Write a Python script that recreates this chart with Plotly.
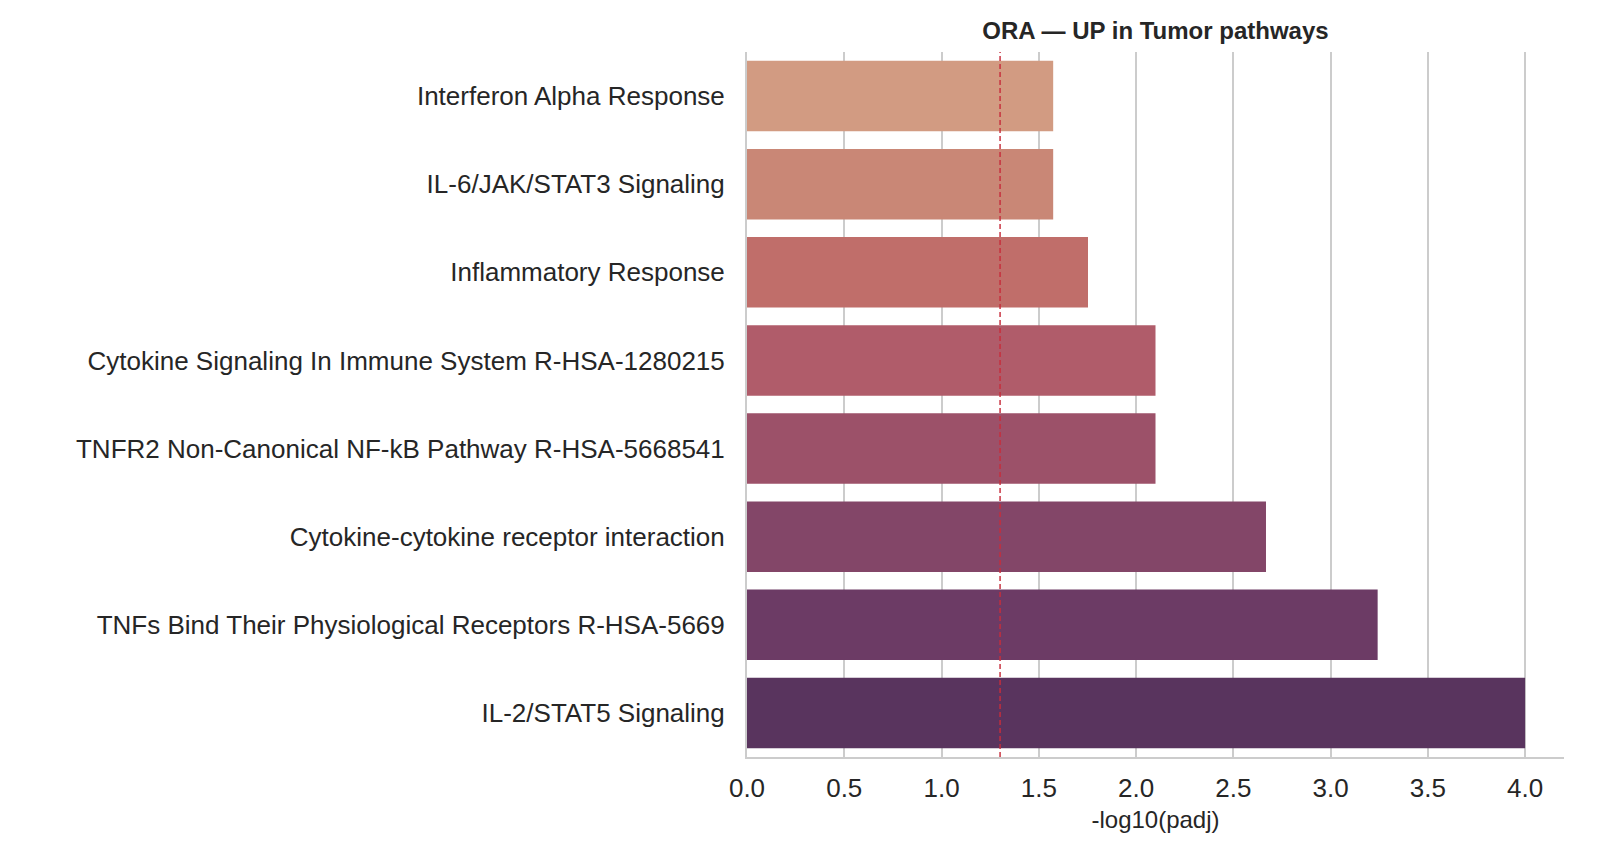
import plotly.graph_objects as go

categories = [
    "Interferon Alpha Response",
    "IL-6/JAK/STAT3 Signaling",
    "Inflammatory Response",
    "Cytokine Signaling In Immune System R-HSA-1280215",
    "TNFR2 Non-Canonical NF-kB Pathway R-HSA-5668541",
    "Cytokine-cytokine receptor interaction",
    "TNFs Bind Their Physiological Receptors R-HSA-5669",
    "IL-2/STAT5 Signaling",
]
values = [1.574, 1.574, 1.753, 2.10, 2.10, 2.668, 3.242, 4.0]
colors = ["#d29b82", "#c98776", "#c06e6a", "#b05c6a", "#9c5169", "#834668", "#6c3b65", "#59345e"]
x_ticks = [0.0, 0.5, 1.0, 1.5, 2.0, 2.5, 3.0, 3.5, 4.0]
threshold = 1.30103

fig = go.Figure()
fig.add_trace(go.Bar(
    x=values, y=categories, orientation="h",
    marker=dict(color=colors, line=dict(width=0)),
    hoverinfo="x+y",
))

fig.add_shape(type="line", xref="x", yref="paper", x0=threshold, x1=threshold, y0=0, y1=1,
              line=dict(color="rgba(200,45,60,0.9)", width=1.6, dash="5px,3px"), layer="above")

FONT = "Liberation Sans, Arial, sans-serif"
fig.update_layout(
    width=1600, height=860,
    margin=dict(l=747, r=36, t=52, b=103),
    paper_bgcolor="white", plot_bgcolor="white",
    showlegend=False,
    bargap=0.2,
    font=dict(family=FONT, color="#262626", size=26),
    title=dict(text="<b>ORA — UP in Tumor pathways</b>", x=0.5, xref="paper", xanchor="center",
               y=1 - 31 / 860, yref="container", yanchor="middle",
               font=dict(family=FONT, size=24, color="#262626")),
    xaxis=dict(range=[0, 4.2], tickvals=x_ticks, tickformat=".1f",
               showgrid=True, gridcolor="#cccccc", gridwidth=1.8,
               zeroline=False, showline=True, linecolor="#cccccc", linewidth=2,
               ticks="", ticklabelstandoff=7,
               tickfont=dict(family=FONT, size=26, color="#262626"),
               title=dict(text="-log10(padj)", standoff=9,
                          font=dict(family=FONT, size=24, color="#262626"))),
    yaxis=dict(categoryorder="array", categoryarray=categories, autorange="reversed",
               showgrid=False, zeroline=False, showline=True, linecolor="#cccccc", linewidth=2,
               ticks="", ticklabelstandoff=15,
               tickfont=dict(family=FONT, size=26, color="#262626")),
)

fig.write_html("out.html")
